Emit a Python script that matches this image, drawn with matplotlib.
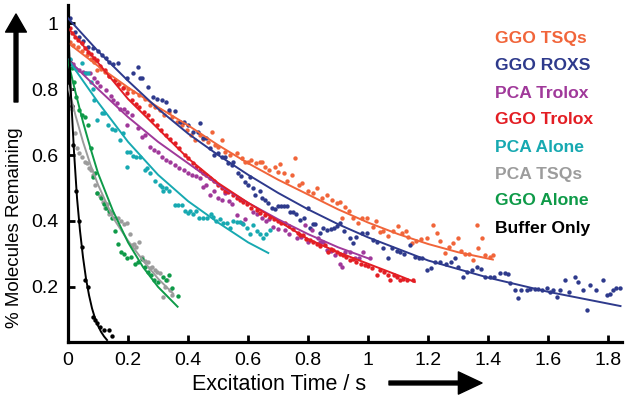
import matplotlib
matplotlib.use("Agg")
from matplotlib import pyplot as plt

plt.rcParams['font.family'] = ['Liberation Sans', 'DejaVu Sans']

# ---- data ----
names = ["GGO TSQs", "GGO ROXS", "PCA Trolox", "GGO Trolox",
         "PCA Alone", "PCA TSQs", "GGO Alone", "Buffer Only"]
colors = ["#F1653A", "#2E3A8C", "#A0399A", "#E31E24",
          "#17A9B1", "#9C9C9C", "#0E9A48", "#000000"]

# GGO TSQs
tsq_x = [0.005,0.018,0.032,0.045,0.062,0.075,0.088,0.098,0.11,0.122,0.138,0.155,0.17,0.188,0.2,0.215,0.238,0.255,0.272,0.29,
         0.305,0.32,0.335,0.348,0.362,0.378,0.395,0.408,0.422,0.438,0.45,0.465,0.478,0.488,0.5,0.512,0.522,0.54,0.562,0.578,
         0.588,0.6,0.61,0.625,0.638,0.645,0.655,0.67,0.688,0.7,0.705,0.72,0.73,0.745,0.755,0.768,0.778,0.8,0.815,0.83,
         0.845,0.862,0.878,0.895,0.905,0.912,0.922,0.935,0.948,0.965,0.978,0.995,1.015,1.025,1.038,1.05,1.065,1.082,1.098,1.112,
         1.125,1.132,1.145,1.16,1.175,1.195,1.215,1.228,1.24,1.255,1.268,1.282,1.298,1.31,1.322,1.335,1.348,1.362,1.365,1.378,
         1.388,1.405,1.415]
tsq_y = [0.942,0.935,0.927,0.915,0.903,0.89,0.882,0.858,0.86,0.852,0.84,0.827,0.815,0.806,0.80,0.79,0.782,0.77,0.752,0.745,
         0.736,0.72,0.73,0.715,0.70,0.69,0.676,0.66,0.645,0.66,0.65,0.64,0.67,0.63,0.625,0.645,0.609,0.60,0.606,0.591,
         0.579,0.58,0.585,0.575,0.579,0.579,0.564,0.555,0.564,0.55,0.573,0.545,0.52,0.539,0.591,0.51,0.515,0.49,0.485,0.50,
         0.47,0.48,0.465,0.455,0.458,0.409,0.442,0.43,0.409,0.394,0.41,0.409,0.382,0.40,0.367,0.37,0.355,0.37,0.385,0.364,
         0.37,0.352,0.333,0.34,0.345,0.348,0.388,0.364,0.34,0.303,0.32,0.333,0.348,0.31,0.30,0.30,0.282,0.388,0.318,0.348,
         0.297,0.291,0.297]
tsq_fit_x = [0, 0.1, 0.2, 0.3, 0.4, 0.5, 0.6, 0.7, 0.8, 0.9, 1.0, 1.1, 1.2, 1.3, 1.415]
tsq_fit_y = [0.94, 0.87, 0.805, 0.745, 0.69, 0.63, 0.575, 0.525, 0.48, 0.435, 0.395, 0.36, 0.33, 0.305, 0.283]

# GGO ROXS
roxs_x = [0.005,0.022,0.038,0.05,0.065,0.083,0.1,0.112,0.125,0.138,0.15,0.165,0.195,0.215,0.232,0.24,0.248,0.265,0.282,0.295,
          0.312,0.325,0.338,0.355,0.372,0.385,0.398,0.415,0.432,0.44,0.45,0.46,0.472,0.485,0.5,0.512,0.522,0.532,0.545,0.55,
          0.565,0.575,0.588,0.6,0.605,0.615,0.622,0.64,0.645,0.655,0.665,0.678,0.688,0.698,0.71,0.72,0.73,0.738,0.75,0.76,
          0.772,0.785,0.798,0.805,0.815,0.822,0.838,0.85,0.862,0.875,0.885,0.895,0.905,0.92,0.938,0.948,0.96,0.978,0.995,1.015,
          1.03,1.048,1.065,1.08,1.095,1.105,1.12,1.138,1.155,1.17,1.18,1.195,1.21,1.222,1.24,1.26,1.275,1.29,1.3,1.315,
          1.33,1.345,1.362,1.375,1.388,1.405,1.42,1.438,1.455,1.465,1.472,1.49,1.5,1.51,1.528,1.54,1.555,1.565,1.58,1.595,
          1.605,1.615,1.628,1.64,1.655,1.67,1.688,1.7,1.715,1.728,1.74,1.76,1.782,1.795,1.805,1.815,1.825,1.838]
roxs_y = [1.015,0.973,0.958,0.945,0.927,0.924,0.915,0.903,0.895,0.882,0.875,0.879,0.833,0.85,0.867,0.833,0.833,0.806,0.776,0.77,
          0.767,0.76,0.736,0.735,0.70,0.70,0.69,0.67,0.67,0.697,0.652,0.652,0.621,0.60,0.605,0.594,0.594,0.576,0.57,0.58,
          0.545,0.535,0.518,0.51,0.533,0.50,0.479,0.49,0.47,0.464,0.455,0.44,0.435,0.445,0.445,0.445,0.445,0.427,0.427,0.42,
          0.403,0.41,0.44,0.379,0.39,0.39,0.364,0.38,0.373,0.375,0.38,0.385,0.394,0.37,0.348,0.333,0.35,0.364,0.364,0.342,
          0.335,0.318,0.288,0.318,0.31,0.306,0.30,0.327,0.291,0.288,0.288,0.252,0.258,0.276,0.276,0.27,0.276,0.288,0.26,0.23,
          0.245,0.25,0.261,0.255,0.23,0.23,0.23,0.242,0.242,0.238,0.212,0.19,0.167,0.19,0.19,0.195,0.195,0.195,0.19,0.197,
          0.185,0.19,0.17,0.19,0.221,0.185,0.23,0.215,0.19,0.13,0.205,0.19,0.221,0.176,0.18,0.19,0.197,0.197]
roxs_fit_x = [0, 0.1, 0.2, 0.3, 0.4, 0.5, 0.6, 0.7, 0.8, 0.9, 1.0, 1.2, 1.4, 1.6, 1.84]
roxs_fit_y = [1.015, 0.915, 0.825, 0.74, 0.665, 0.6, 0.54, 0.485, 0.435, 0.39, 0.35, 0.28, 0.228, 0.185, 0.142]

# PCA Trolox
pcatr_x = [0.005,0.018,0.038,0.05,0.06,0.072,0.085,0.095,0.108,0.128,0.142,0.15,0.162,0.172,0.185,0.195,0.198,0.212,0.232,0.245,
           0.255,0.272,0.285,0.3,0.312,0.325,0.34,0.355,0.37,0.385,0.4,0.412,0.425,0.438,0.45,0.46,0.472,0.485,0.5,0.512,
           0.522,0.535,0.545,0.562,0.578,0.59,0.615,0.63,0.645,0.66,0.668,0.682,0.698,0.722,0.735,0.762,0.775,0.788,0.798,0.812,
           0.832,0.838,0.85,0.862,0.875,0.888,0.905,0.912,0.922,0.938,0.955,0.968,0.982,1.005]
pcatr_y = [0.888,0.875,0.858,0.852,0.85,0.848,0.835,0.821,0.81,0.797,0.78,0.768,0.758,0.74,0.74,0.69,0.73,0.72,0.682,0.655,
           0.66,0.624,0.615,0.61,0.594,0.585,0.58,0.57,0.56,0.555,0.545,0.54,0.535,0.53,0.503,0.51,0.479,0.49,0.47,0.464,
           0.485,0.46,0.45,0.418,0.394,0.405,0.427,0.42,0.409,0.40,0.405,0.382,0.375,0.373,0.36,0.348,0.35,0.388,0.336,0.373,
           0.348,0.336,0.336,0.312,0.31,0.297,0.27,0.261,0.306,0.306,0.288,0.288,0.306,0.288]
pcatr_fit_x = [0, 0.1, 0.2, 0.3, 0.4, 0.5, 0.6, 0.7, 0.8, 0.9, 1.005]
pcatr_fit_y = [0.89, 0.80, 0.715, 0.64, 0.575, 0.51, 0.455, 0.405, 0.36, 0.32, 0.285]

# GGO Trolox
ggotr_x = [0.005,0.012,0.022,0.032,0.045,0.055,0.065,0.075,0.085,0.095,0.108,0.122,0.138,0.155,0.168,0.182,0.195,0.212,0.225,0.238,
           0.252,0.265,0.28,0.295,0.31,0.328,0.34,0.355,0.37,0.388,0.4,0.415,0.425,0.438,0.45,0.46,0.472,0.485,0.498,0.512,
           0.522,0.532,0.548,0.562,0.572,0.582,0.595,0.61,0.628,0.64,0.655,0.672,0.685,0.7,0.71,0.722,0.735,0.75,0.765,0.772,
           0.782,0.792,0.805,0.815,0.828,0.84,0.855,0.865,0.875,0.882,0.895,0.905,0.915,0.925,0.938,0.95,0.96,0.975,0.988,1.0,
           1.012,1.028,1.04,1.052,1.065,1.072,1.085,1.095,1.105,1.115,1.13,1.148]
ggotr_y = [0.985,0.97,0.958,0.95,0.939,0.925,0.912,0.905,0.895,0.888,0.87,0.858,0.84,0.827,0.815,0.803,0.787,0.767,0.755,0.745,
           0.73,0.721,0.705,0.691,0.675,0.661,0.65,0.636,0.62,0.60,0.59,0.576,0.565,0.555,0.545,0.54,0.53,0.52,0.509,0.50,
           0.49,0.488,0.48,0.47,0.465,0.458,0.45,0.44,0.433,0.425,0.418,0.412,0.405,0.40,0.395,0.394,0.385,0.375,0.365,0.358,
           0.358,0.345,0.342,0.336,0.33,0.325,0.327,0.306,0.315,0.312,0.305,0.30,0.298,0.29,0.282,0.285,0.275,0.27,0.267,0.262,
           0.258,0.236,0.25,0.245,0.236,0.221,0.235,0.23,0.221,0.225,0.222,0.221]
ggotr_fit_x = [0, 0.1, 0.2, 0.3, 0.4, 0.5, 0.6, 0.7, 0.8, 0.9, 1.0, 1.1, 1.155]
ggotr_fit_y = [0.985, 0.88, 0.77, 0.68, 0.59, 0.515, 0.455, 0.40, 0.345, 0.305, 0.27, 0.235, 0.215]

# PCA Alone
pca_x = [0.005,0.015,0.028,0.045,0.055,0.065,0.075,0.083,0.088,0.098,0.112,0.12,0.132,0.145,0.155,0.172,0.183,0.195,0.198,0.205,
         0.215,0.228,0.24,0.255,0.262,0.272,0.29,0.305,0.312,0.318,0.325,0.338,0.355,0.365,0.378,0.388,0.398,0.405,0.415,0.425,
         0.435,0.448,0.462,0.475,0.482,0.492,0.505,0.515,0.53,0.54,0.548,0.562,0.572,0.582,0.595,0.605,0.615,0.628,0.638,0.65,
         0.66,0.672]
pca_y = [0.89,0.87,0.86,0.88,0.85,0.85,0.82,0.80,0.766,0.706,0.727,0.727,0.69,0.68,0.676,0.645,0.667,0.564,0.61,0.61,
         0.597,0.594,0.594,0.555,0.56,0.545,0.52,0.51,0.503,0.49,0.50,0.49,0.449,0.449,0.449,0.43,0.424,0.43,0.42,0.43,
         0.41,0.41,0.41,0.42,0.412,0.40,0.405,0.394,0.394,0.38,0.4,0.397,0.397,0.39,0.379,0.36,0.388,0.37,0.36,0.348,
         0.36,0.373]
pca_fit_x = [0, 0.1, 0.2, 0.3, 0.4, 0.5, 0.6, 0.667]
pca_fit_y = [0.89, 0.76, 0.64, 0.54, 0.46, 0.395, 0.335, 0.303]

# PCA TSQs
pcatsq_x = [0.005,0.012,0.022,0.03,0.035,0.045,0.055,0.062,0.07,0.078,0.082,0.09,0.098,0.105,0.115,0.122,0.13,0.138,0.148,0.158,
            0.168,0.178,0.188,0.195,0.205,0.212,0.22,0.228,0.238,0.248,0.258,0.265,0.272,0.28,0.29,0.298,0.308,0.315,0.322,0.33,
            0.34,0.348]
pcatsq_y = [0.80,0.74,0.667,0.62,0.606,0.594,0.58,0.576,0.56,0.555,0.54,0.51,0.485,0.475,0.457,0.44,0.45,0.42,0.425,0.41,
            0.41,0.40,0.39,0.394,0.36,0.327,0.33,0.32,0.336,0.29,0.28,0.275,0.258,0.26,0.25,0.245,0.242,0.17,0.2,0.22,
            0.19,0.176]
pcatsq_fit_x = [0, 0.025, 0.05, 0.075, 0.1, 0.15, 0.2, 0.25, 0.3, 0.35]
pcatsq_fit_y = [0.81, 0.72, 0.64, 0.57, 0.51, 0.41, 0.34, 0.28, 0.225, 0.18]

# GGO Alone
ggo_x = [0.005,0.012,0.02,0.028,0.038,0.048,0.055,0.065,0.075,0.082,0.09,0.098,0.11,0.12,0.128,0.138,0.145,0.155,0.165,0.175,
         0.188,0.198,0.21,0.222,0.232,0.245,0.255,0.265,0.278,0.288,0.3,0.315,0.328,0.335,0.348,0.365]
ggo_y = [0.88,0.864,0.82,0.776,0.736,0.72,0.715,0.69,0.62,0.533,0.545,0.485,0.47,0.45,0.44,0.43,0.41,0.37,0.33,0.306,
         0.30,0.288,0.29,0.27,0.275,0.285,0.26,0.245,0.235,0.22,0.215,0.23,0.22,0.236,0.197,0.173]
ggo_fit_x = [0, 0.025, 0.05, 0.075, 0.1, 0.15, 0.2, 0.25, 0.3, 0.365]
ggo_fit_y = [0.885, 0.79, 0.70, 0.62, 0.545, 0.43, 0.335, 0.26, 0.2, 0.14]

# Buffer Only
buf_x = [0.005,0.012,0.018,0.025,0.035,0.045,0.058,0.068,0.082,0.09,0.098,0.108,0.12,0.135,0.145]
buf_y = [0.88,0.75,0.63,0.49,0.40,0.32,0.22,0.20,0.11,0.10,0.09,0.08,0.07,0.07,0.05]
buf_fit_x = [0, 0.01, 0.02, 0.03, 0.04, 0.05, 0.06, 0.07, 0.08, 0.09, 0.1, 0.11, 0.12, 0.13]
buf_fit_y = [1.0, 0.78, 0.61, 0.47, 0.37, 0.29, 0.225, 0.175, 0.135, 0.105, 0.082, 0.064, 0.05, 0.039]

points = [(tsq_x, tsq_y), (roxs_x, roxs_y), (pcatr_x, pcatr_y), (ggotr_x, ggotr_y),
          (pca_x, pca_y), (pcatsq_x, pcatsq_y), (ggo_x, ggo_y), (buf_x, buf_y)]
fits = [(tsq_fit_x, tsq_fit_y), (roxs_fit_x, roxs_fit_y), (pcatr_fit_x, pcatr_fit_y),
        (ggotr_fit_x, ggotr_fit_y), (pca_fit_x, pca_fit_y), (pcatsq_fit_x, pcatsq_fit_y),
        (ggo_fit_x, ggo_fit_y), (buf_fit_x, buf_fit_y)]

fig = plt.figure(figsize=(6.29, 4.03), dpi=100)
ax = fig.add_axes([68/629, 1-342/403, (622-68)/629, (342-5)/403])

for (px, py), c in zip(points, colors):
    ax.scatter(px, py, s=10, color=c, linewidths=0, zorder=2)
for (fx, fy), c in zip(fits, colors):
    ax.plot(fx, fy, color=c, lw=1.4, zorder=3)

ax.set_xlim(0, 1.845)
ax.set_ylim(0.033, 1.055)
ax.set_xticks([0, 0.2, 0.4, 0.6, 0.8, 1, 1.2, 1.4, 1.6, 1.8])
ax.set_xticklabels(["0", "0.2", "0.4", "0.6", "0.8", "1", "1.2", "1.4", "1.6", "1.8"])
ax.set_yticks([0.2, 0.4, 0.6, 0.8, 1])
ax.set_yticklabels(["0.2", "0.4", "0.6", "0.8", "1"])
ax.spines['top'].set_visible(False)
ax.spines['right'].set_visible(False)
ax.spines['left'].set_linewidth(2.3)
ax.spines['bottom'].set_linewidth(2.3)
ax.tick_params(direction='in', length=5, width=2, labelsize=14, pad=7)

# axis labels with arrows
fig.text(15/629, 1-228/403, "% Molecules Remaining", rotation=90,
         ha='center', va='center', fontsize=13.5)
fig.text(279/629, 1-384/403, "Excitation Time / s", ha='center', va='center', fontsize=15.5)
ax.annotate('', xy=(16, 403-14), xytext=(16, 403-102), xycoords='figure pixels',
            textcoords='figure pixels',
            arrowprops=dict(width=2.8, headwidth=15, headlength=13, facecolor='k', edgecolor='k'))
ax.annotate('', xy=(482, 403-383), xytext=(389, 403-383), xycoords='figure pixels',
            textcoords='figure pixels',
            arrowprops=dict(width=2.8, headwidth=16, headlength=17, facecolor='k', edgecolor='k'))

# colored legend text
for i, (n, c) in enumerate(zip(names, colors)):
    fig.text(495/629, 1-(39 + i*27)/403, n, color=c, fontsize=12.6,
             fontweight='bold', ha='left', va='center')

fig.savefig("out.png", dpi=100)
